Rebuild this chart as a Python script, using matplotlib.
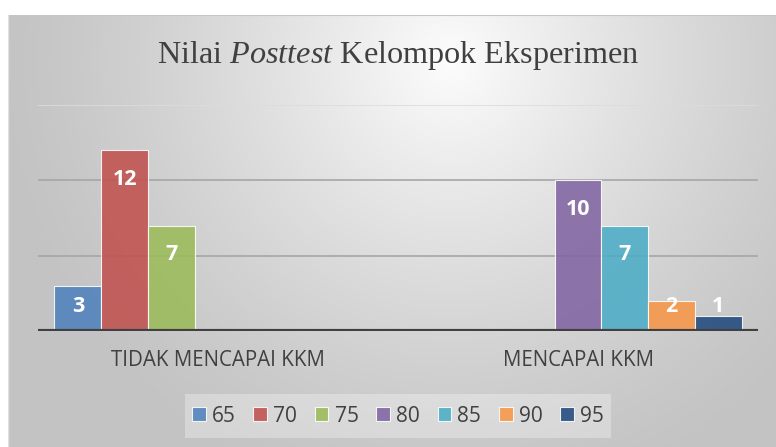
import numpy as np
import matplotlib
matplotlib.use("Agg")
import matplotlib.pyplot as plt
from matplotlib.patches import Rectangle

plt.rcParams["mathtext.fontset"] = "custom"
plt.rcParams["mathtext.it"] = "Liberation Serif:italic"
plt.rcParams["mathtext.rm"] = "Liberation Serif"

categories = ["TIDAK MENCAPAI KKM", "MENCAPAI KKM"]
series_names = ["65", "70", "75", "80", "85", "90", "95"]
values = {
    "65": [3, 0],
    "70": [12, 0],
    "75": [7, 0],
    "80": [0, 10],
    "85": [0, 7],
    "90": [0, 2],
    "95": [0, 1],
}
colors = ["#4f81bd", "#c0504d", "#9bbb59", "#8064a2", "#4bacc6", "#f79646", "#1f497d"]
yticks = [0, 5, 10, 15]

W, H = 776, 447
fig = plt.figure(figsize=(W / 100, H / 100), dpi=100)
fig.patch.set_facecolor("white")

# background gradient panel
bx0, by0 = 8, 15
bg = fig.add_axes([bx0 / W, 0, (W - bx0) / W, (H - by0) / H])
bg.set_axis_off()
ny, nx = 200, 360
yy, xx = np.mgrid[0:ny, 0:nx]
px = xx / nx * (W - bx0) + bx0
py = yy / ny * (H - by0) + by0
cx, cy = 450, 60
d = np.sqrt(((px - cx) / 460) ** 2 + ((py - cy) / 460) ** 2)
d = np.clip(d, 0, 1)
lo, hi = 0.99, 0.765
g = hi + (lo - hi) * (1 - d) ** 1.3
img = np.dstack([g, g, g])
bg.imshow(img, extent=[0, 1, 0, 1], aspect="auto", origin="upper", zorder=0)
bg.set_xlim(0, 1)
bg.set_ylim(0, 1)
bg.axhline(1, color="#c4c4c4", lw=1.5, xmin=0, xmax=1)
bg.axvline(0, color="#e0e0e0", lw=1.0)

# main axes
left, right = 38, 758
top, base = 105, 331
ax = fig.add_axes([left / W, (H - base) / H, (right - left) / W, (base - top) / H])
ax.patch.set_alpha(0)
ax.set_xlim(-0.5, 1.5)
ax.set_ylim(0, 15)

for t in yticks[1:]:
    col = "#dcdcdc" if t == yticks[-1] else "#a6a6a6"
    ax.axhline(t, color=col, lw=1.2, zorder=1)

x = np.arange(len(categories))
n = len(series_names)
w = 327 / 360 / n
px_per_unit = (base - top) / 15.0
for i, (name, c) in enumerate(zip(series_names, colors)):
    vals = values[name]
    xs = x + (i - (n - 1) / 2) * w
    ax.bar(xs, vals, width=w, color=c, alpha=0.87, edgecolor=(1, 1, 1, 0.45),
           linewidth=0.8, zorder=2, label=name)
    for xi, v in zip(xs, vals):
        if v > 0:
            ylab = max(v - 29 / px_per_unit, 24 / px_per_unit)
            ax.text(xi, ylab, str(v), ha="center", va="center", color="white",
                    fontsize=15.5, fontweight="bold", family="Open Sans", zorder=4)

ax.axhline(0, color="#404040", lw=3, zorder=3)
for s in ax.spines.values():
    s.set_visible(False)
ax.set_yticks([])
ax.set_xticks(x)
ax.set_xticklabels(categories, fontsize=14.8, color="#404040", family="Open Sans")
ax.tick_params(axis="x", length=0, pad=14)

# title
fig.text(398 / W, 1 - 55 / H, "Nilai $\\mathit{Posttest}$ Kelompok Eksperimen",
         ha="center", va="center", fontsize=23.2, color="#404040", family="Liberation Serif")

# legend background box
lb = Rectangle((185 / W, 1 - 438 / H), (611 - 185) / W, (438 - 394) / H,
               transform=fig.transFigure, facecolor="white", alpha=0.3,
               edgecolor="none", zorder=5)
fig.patches.append(lb)
leg = fig.legend(loc="center", bbox_to_anchor=(398 / W, 1 - 416 / H), ncol=7,
                 frameon=False, prop={"family": "Open Sans", "size": 15},
                 handlelength=0.65, handleheight=0.65, handletextpad=0.3,
                 columnspacing=0.85, labelcolor="#404040")
for h in leg.legend_handles:
    h.set_alpha(0.87)

fig.savefig("out.png", dpi=100)
